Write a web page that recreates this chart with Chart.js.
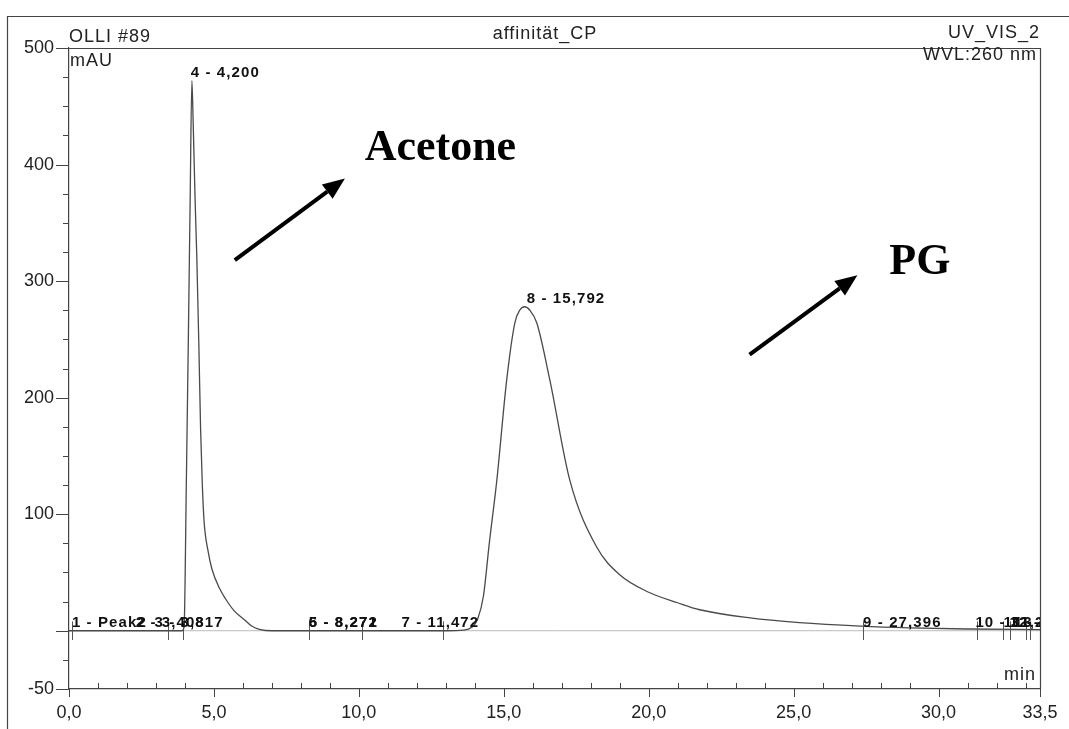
<!DOCTYPE html>
<html>
<head>
<meta charset="utf-8">
<script src="https://cdn.jsdelivr.net/npm/chart.js@4.4.0/dist/chart.umd.min.js"></script>
<style>
    html, body { margin: 0; padding: 0; background: #fff; }
    #wrap { width: 1069px; height: 729px; position: relative; }
</style>
</head>
<body>
<div id="wrap"><canvas id="chromatogram"></canvas></div>
<script>
// trace (retention time in min, absorbance in mAU)
const traceTimes = [0, 3.9, 3.97, 4.05, 4.12, 4.18, 4.24, 4.28, 4.35, 4.41, 4.48, 4.54, 4.6, 4.66, 4.8, 4.93,
    5.2, 5.41, 5.7, 6.07, 6.3, 6.6, 7.0, 13.0, 13.6, 13.9, 14.1, 14.3, 14.5, 14.76, 15.1, 15.38, 15.55,
    15.72, 15.9, 16.14, 16.59, 17.28, 18.2, 19.0, 20.0, 21.0, 21.76, 23.5, 25.2, 27.3, 29.0, 31.0, 33.5];
const traceValues = [0, 0, 3, 130, 255, 370, 472, 440, 370, 320, 245, 173, 125, 94, 68, 53,
    36, 27, 17, 9, 4, 1, 0, 0, 0.5, 3, 10, 30, 75, 129, 215, 264, 275,
    278, 275, 264, 215, 129, 72, 48, 33, 24, 18, 11, 7, 4, 2.5, 1.5, 1];

const baselineTimes = [0, 33.5];
const baselineValues = [0, 0];

// peak annotations
const peakLabels = ['1 - Peak2', '2 - 3,408', '3 - 3,817', '4 - 4,200', '5 - 8,271', '6 - 8,272', '7 - 11,472',
    '8 - 15,792', '9 - 27,396', '10 - 31,272', '11 - 32,240', '12 - 32,452', '13 - 32,603'];
const peakTimes = [0.1, 2.3, 2.95, 4.2, 8.271, 8.272, 11.472, 15.792, 27.396, 31.272, 32.24, 32.45, 32.6];
const peakHeights = [0, 0, 0, 472, 0, 0, 0, 278, 0, 0, 0, 0, 0];
const markerTimes = [0.1, 3.41, 3.93, 8.27, 10.1, 12.9, 27.4, 31.34, 32.24, 32.45, 33.0, 33.14];

// axes
const xTickValues = [0, 5, 10, 15, 20, 25, 30, 33.5];
const xMinorValues = [1, 2, 3, 4, 6, 7, 8, 9, 11, 12, 13, 14, 16, 17, 18, 19, 21, 22, 23, 24, 26, 27, 28, 29, 31, 32, 33];
const yTickValues = [-50, -25, 0, 25, 50, 75, 100, 125, 150, 175, 200, 225, 250, 275, 300, 325, 350, 375,
    400, 425, 450, 475, 500];
const yLabelValues = [-50, 100, 200, 300, 400, 500];

// hand-written callouts: [min, mAU]
const calloutNames = ['Acetone', 'PG'];
const calloutTextAt = [[10.2, 414], [28.3, 316]];
const calloutArrowFrom = [[5.72, 318], [23.48, 237]];
const calloutArrowTo = [[9.52, 388], [27.2, 305]];

const SANS = '"Liberation Sans", Arial, sans-serif';

function commaNumber(v) {
    return v.toFixed(1).replace('.', ',');
}

function drawArrow(ctx, x1, y1, x2, y2) {
    const ang = Math.atan2(y2 - y1, x2 - x1);
    const head = 22;
    const half = 9;
    const bx = x2 - head * Math.cos(ang);
    const by = y2 - head * Math.sin(ang);
    ctx.strokeStyle = '#000';
    ctx.lineWidth = 4;
    ctx.beginPath();
    ctx.moveTo(x1, y1);
    ctx.lineTo(bx, by);
    ctx.stroke();
    ctx.fillStyle = '#000';
    ctx.beginPath();
    ctx.moveTo(x2, y2);
    ctx.lineTo(bx + half * Math.sin(ang), by - half * Math.cos(ang));
    ctx.lineTo(bx - half * Math.sin(ang), by + half * Math.cos(ang));
    ctx.closePath();
    ctx.fill();
}

const printoutPlugin = {
    id: 'printout',
    beforeDraw(chart) {
        const ctx = chart.ctx;
        ctx.save();
        ctx.fillStyle = '#fff';
        ctx.fillRect(0, 0, chart.width, chart.height);
        ctx.restore();
    },
    afterDatasetsDraw(chart) {
        const ctx = chart.ctx;
        const xs = chart.scales.x;
        const ys = chart.scales.y;
        const area = chart.chartArea;

        ctx.save();
        ctx.beginPath();
        ctx.rect(area.left, area.top - 40, area.right - area.left, area.bottom - area.top + 40);
        ctx.clip();

        // integration markers
        ctx.strokeStyle = '#555';
        ctx.lineWidth = 1;
        markerTimes.forEach(t => {
            const px = Math.round(xs.getPixelForValue(t)) + 0.5;
            ctx.beginPath();
            ctx.moveTo(px, ys.getPixelForValue(8));
            ctx.lineTo(px, ys.getPixelForValue(-8));
            ctx.stroke();
        });

        // peak labels
        ctx.fillStyle = '#111';
        ctx.font = 'bold 15px ' + SANS;
        ctx.letterSpacing = '1.1px';
        ctx.textAlign = 'left';
        ctx.textBaseline = 'alphabetic';
        peakLabels.forEach((txt, i) => {
            const px = xs.getPixelForValue(peakTimes[i]);
            const py = ys.getPixelForValue(peakHeights[i]) - 4;
            ctx.fillText(txt, px, py);
        });
        ctx.restore();

        // callouts
        ctx.save();
        calloutNames.forEach((name, i) => {
            drawArrow(ctx,
                xs.getPixelForValue(calloutArrowFrom[i][0]), ys.getPixelForValue(calloutArrowFrom[i][1]),
                xs.getPixelForValue(calloutArrowTo[i][0]), ys.getPixelForValue(calloutArrowTo[i][1]));
            ctx.fillStyle = '#000';
            ctx.font = 'bold 44px "Liberation Serif", "Times New Roman", serif';
            ctx.textAlign = 'left';
            ctx.textBaseline = 'middle';
            ctx.fillText(name, xs.getPixelForValue(calloutTextAt[i][0]), ys.getPixelForValue(calloutTextAt[i][1]));
        });
        ctx.restore();
    },
    afterDraw(chart) {
        const ctx = chart.ctx;
        const xs = chart.scales.x;
        const ys = chart.scales.y;
        const area = chart.chartArea;

        ctx.save();
        ctx.strokeStyle = '#444';
        ctx.lineWidth = 1.2;

        // page frame + header rule
        ctx.beginPath();
        ctx.moveTo(7.5, chart.height);
        ctx.lineTo(7.5, 16.5);
        ctx.lineTo(chart.width, 16.5);
        ctx.stroke();

        // plot frame (top + right)
        ctx.beginPath();
        ctx.moveTo(area.left, area.top + 0.5);
        ctx.lineTo(area.right + 0.5, area.top + 0.5);
        ctx.lineTo(area.right + 0.5, area.bottom);
        ctx.stroke();

        // y ticks
        ctx.lineWidth = 1;
        yTickValues.forEach(v => {
            const py = Math.round(ys.getPixelForValue(v)) + 0.5;
            const len = (yLabelValues.includes(v) || v === 0) ? 13 : 6;
            ctx.beginPath();
            ctx.moveTo(area.left - len, py);
            ctx.lineTo(area.left, py);
            ctx.stroke();
        });

        // x ticks: minor up, major down
        xMinorValues.forEach(v => {
            const px = Math.round(xs.getPixelForValue(v)) + 0.5;
            ctx.beginPath();
            ctx.moveTo(px, area.bottom);
            ctx.lineTo(px, area.bottom - 6);
            ctx.stroke();
        });
        xTickValues.forEach(v => {
            const px = Math.round(xs.getPixelForValue(v)) + 0.5;
            ctx.beginPath();
            ctx.moveTo(px, area.bottom);
            ctx.lineTo(px, area.bottom + 8);
            ctx.stroke();
        });

        // header texts
        ctx.fillStyle = '#222';
        ctx.font = '18px ' + SANS;
        ctx.letterSpacing = '1px';
        ctx.textBaseline = 'middle';
        ctx.textAlign = 'left';
        ctx.fillText('OLLI #89', area.left, 37);
        ctx.fillText('mAU', area.left + 1, 61);
        ctx.textAlign = 'center';
        ctx.fillText('affinität_CP', 545, 34);
        ctx.textAlign = 'right';
        ctx.fillText('UV_VIS_2', area.right, 33);
        ctx.fillText('WVL:260 nm', area.right - 3, 55);
        ctx.fillText('min', area.right - 4, 675);
        ctx.restore();
    }
};

const chartConfig = {
    type: 'line',
    data: {
        datasets: [{
            data: traceTimes.map((t, i) => ({x: t, y: traceValues[i]})),
            borderColor: '#4a4a4a',
            borderWidth: 1.3,
            pointRadius: 0,
            cubicInterpolationMode: 'monotone',
            fill: false
        }, {
            data: baselineTimes.map((t, i) => ({x: t, y: baselineValues[i]})),
            borderColor: '#bbbbbb',
            borderWidth: 1,
            pointRadius: 0,
            fill: false
        }]
    },
    options: {
        responsive: true,
        maintainAspectRatio: false,
        devicePixelRatio: 1,
        animation: false,
        layout: {
            padding: {top: 48, right: 29, left: 0, bottom: 0}
        },
        plugins: {
            legend: {display: false},
            tooltip: {enabled: false},
            title: {display: false}
        },
        scales: {
            x: {
                type: 'linear',
                position: 'bottom',
                min: 0,
                max: 33.5,
                grid: {display: false},
                border: {display: true, color: '#444', width: 1.2},
                afterBuildTicks: scale => {
                    scale.ticks = xTickValues.map(v => ({value: v}));
                },
                afterFit: scale => {
                    scale.height = 40;
                },
                ticks: {
                    autoSkip: false,
                    maxRotation: 0,
                    padding: 5,
                    color: '#222',
                    font: {family: SANS, size: 18},
                    callback: v => commaNumber(v)
                }
            },
            y: {
                type: 'linear',
                min: -50,
                max: 500,
                grid: {display: false},
                border: {display: true, color: '#444', width: 1.2},
                afterBuildTicks: scale => {
                    scale.ticks = yTickValues.map(v => ({value: v}));
                },
                afterFit: scale => {
                    scale.width = 69;
                },
                ticks: {
                    autoSkip: false,
                    padding: 7,
                    color: '#222',
                    font: {family: SANS, size: 18},
                    callback: v => yLabelValues.includes(v) ? String(v) : ''
                }
            }
        }
    },
    plugins: [printoutPlugin]
};

new Chart('chromatogram', chartConfig);
</script>
</body>
</html>
